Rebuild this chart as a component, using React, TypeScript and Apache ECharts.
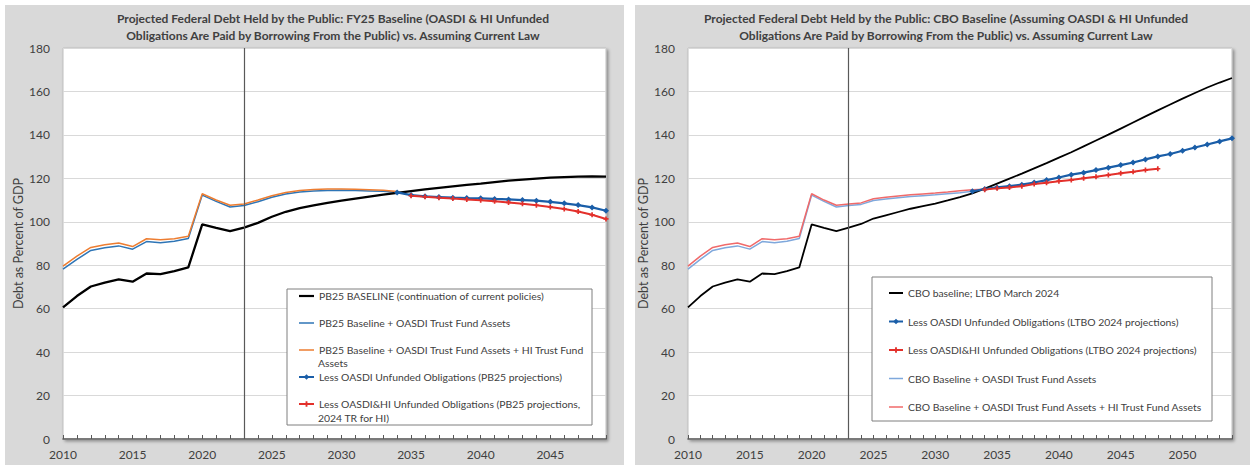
import React, { useEffect, useRef } from "react";
import * as echarts from "echarts";

const FONT = "Lato, 'Noto Sans', sans-serif";

// Categories
const YEARS_LEFT: string[] = Array.from({ length: 40 }, (_, i) => String(2010 + i)); // 2010-2049
const YEARS_RIGHT: string[] = Array.from({ length: 45 }, (_, i) => String(2010 + i)); // 2010-2054

// Historical debt held by public, % of GDP (2010-2023)
const HIST_DEBT = [60.6, 65.8, 70.2, 72.0, 73.5, 72.4, 76.2, 75.9, 77.3, 79.0, 98.8, 97.2, 95.7, 97.3];
// Historical debt + OASDI trust fund assets (2010-2023)
const HIST_TF_OASDI = [78.2, 82.7, 86.8, 88.0, 88.9, 87.4, 90.9, 90.4, 91.0, 92.3, 112.3, 109.4, 106.8, 107.5];
// Historical debt + OASDI + HI trust fund assets (2010-2023)
const HIST_TF_OASDI_HI = [79.6, 84.2, 88.2, 89.4, 90.2, 88.6, 92.2, 91.7, 92.2, 93.3, 112.9, 110.0, 107.6, 108.2];

// Left chart (PB25) projections
const PB25_BASELINE_PROJ = [99.5, 102.3, 104.6, 106.3, 107.6, 108.7, 109.7, 110.7, 111.6, 112.5, 113.3, 114.1, 114.9, 115.6, 116.3, 117.0, 117.6, 118.3, 118.9, 119.4, 119.9, 120.3, 120.6, 120.8, 120.9, 120.8]; // 2024-2049
const PB25_TF_OASDI_PROJ = [109.2, 111.3, 112.8, 113.7, 114.2, 114.4, 114.5, 114.4, 114.2, 114.0, 113.5]; // 2024-2034
const PB25_TF_OASDI_HI_PROJ = [110.0, 112.0, 113.5, 114.4, 114.9, 115.1, 115.1, 115.0, 114.8, 114.5, 113.9]; // 2024-2034
const PB25_LESS_OASDI = [113.5, 112.3, 111.7, 111.4, 111.1, 110.9, 110.8, 110.5, 110.3, 110.0, 109.7, 109.2, 108.5, 107.7, 106.6, 105.1]; // 2034-2049
const PB25_LESS_OASDI_HI = [112.0, 111.5, 111.1, 110.7, 110.3, 109.9, 109.4, 108.9, 108.3, 107.6, 106.8, 105.9, 104.7, 103.2, 101.3]; // 2035-2049

// Right chart (CBO) projections
const CBO_BASELINE_PROJ = [99.0, 101.5, 103.0, 104.5, 106.0, 107.2, 108.4, 109.8, 111.3, 113.1, 115.3, 117.6, 119.9, 122.2, 124.6, 127.0, 129.5, 132.0, 134.7, 137.4, 140.1, 142.9, 145.7, 148.5, 151.3, 154.0, 156.7, 159.3, 161.8, 164.1, 166.2]; // 2024-2054
const CBO_TF_OASDI_PROJ = [108.0, 109.8, 110.5, 111.1, 111.6, 112.0, 112.4, 112.9, 113.4, 114.0]; // 2024-2033
const CBO_TF_OASDI_HI_PROJ = [108.7, 110.6, 111.3, 111.9, 112.4, 112.8, 113.2, 113.7, 114.3, 114.8, 115.0]; // 2024-2034
const CBO_LESS_OASDI = [114.0, 115.1, 115.8, 116.4, 117.1, 118.1, 119.2, 120.4, 121.7, 122.6, 123.8, 124.9, 126.1, 127.3, 128.7, 130.1, 131.2, 132.7, 134.2, 135.6, 137.0, 138.4]; // 2033-2054
const CBO_LESS_OASDI_HI = [114.8, 115.4, 115.8, 116.4, 117.4, 118.0, 118.7, 119.2, 120.0, 120.7, 121.5, 122.3, 123.0, 123.8, 124.4]; // 2034-2048

// Series names
const L1 = "PB25 BASELINE (continuation of current policies)";
const L2 = "PB25 Baseline + OASDI Trust Fund Assets";
const L3 = "PB25 Baseline + OASDI Trust Fund Assets + HI Trust Fund Assets";
const L4 = "Less OASDI Unfunded Obligations (PB25 projections)";
const L5 = "Less OASDI&HI Unfunded Obligations (PB25 projections, 2024 TR for HI)";
const R1 = "CBO baseline; LTBO March 2024";
const R2 = "Less OASDI Unfunded Obligations (LTBO 2024 projections)";
const R3 = "Less OASDI&HI Unfunded Obligations (LTBO 2024 projections)";
const R4 = "CBO Baseline + OASDI Trust Fund Assets";
const R5 = "CBO Baseline + OASDI Trust Fund Assets + HI Trust Fund Assets";

const LEGEND_FIRST_LINE: Record<string, string> = {
  [L3]: "PB25 Baseline + OASDI Trust Fund Assets + HI Trust Fund",
  [L5]: "Less OASDI&HI Unfunded Obligations (PB25 projections,",
};

const TITLE_LEFT = "Projected Federal Debt Held by the Public: FY25 Baseline (OASDI & HI Unfunded\nObligations Are Paid by Borrowing From the Public) vs. Assuming Current Law";
const TITLE_RIGHT = "Projected Federal Debt Held by the Public: CBO Baseline (Assuming OASDI & HI Unfunded\nObligations Are Paid by Borrowing From the Public) vs. Assuming Current Law";
const Y_NAME = "Debt as Percent of GDP";

function place(years: string[], start: number, values: number[]) {
  return years.map((y) => {
    const i = Number(y) - start;
    return i >= 0 && i < values.length ? values[i] : null;
  });
}

const PLUS = "path://M2,0H4V2H6V4H4V6H2V4H0V2H2Z";
const TEXT = "#404040";

function xAxis(gridIndex: number, data: string[]) {
  return {
    type: "category",
    gridIndex,
    data,
    boundaryGap: false,
    axisLine: { lineStyle: { color: "#595959", width: 1.5 } },
    axisTick: { show: true, inside: true, length: 4, interval: 0, lineStyle: { color: "#595959" } },
    axisLabel: { interval: 4, color: TEXT, fontSize: 12, fontFamily: FONT, margin: 9 },
    splitLine: { show: false },
  };
}

function yAxis(gridIndex: number, nameGap: number) {
  return {
    type: "value",
    gridIndex,
    min: 0,
    max: 180,
    interval: 20,
    axisLine: { show: false },
    axisTick: { show: false },
    axisLabel: { color: TEXT, fontSize: 12, fontFamily: FONT, margin: 13 },
    splitLine: { lineStyle: { color: "#d9d9d9", width: 1 } },
    name: Y_NAME,
    nameLocation: "middle",
    nameGap,
    nameTextStyle: { color: TEXT, fontSize: 12.5, fontFamily: FONT },
  };
}

function line(name: string, idx: number, data: (number | null)[], color: string, width: number, extra: any = {}) {
  return {
    type: "line",
    name,
    xAxisIndex: idx,
    yAxisIndex: idx,
    data,
    symbol: "none",
    lineStyle: { color, width },
    itemStyle: { color },
    emphasis: { disabled: true },
    silent: true,
    ...extra,
  };
}

const vline = {
  silent: true,
  symbol: ["none", "none"],
  label: { show: false },
  lineStyle: { color: "#595959", width: 1.2, type: "solid" },
  data: [{ xAxis: "2023" }],
};

export default function App() {
  const ref = useRef<HTMLDivElement>(null);
  useEffect(() => {
    document.body.style.margin = "0";
    const chart = echarts.init(ref.current!, null, { renderer: "svg" });
    const legendText = { color: TEXT, fontSize: 10.4, fontFamily: FONT, lineHeight: 13 };
    const titleText = { color: TEXT, fontSize: 12, fontWeight: "bold", fontFamily: FONT, lineHeight: 17 };
    const option: any = {
      animation: false,
      backgroundColor: "#ffffff",
      title: [
        { text: TITLE_LEFT, left: 333, top: 10, padding: 0, textAlign: "center", textStyle: titleText },
        { text: TITLE_RIGHT, left: 946, top: 10, padding: 0, textAlign: "center", textStyle: titleText },
      ],
      grid: [
        {
          left: 63, top: 48, width: 543, height: 391, show: true, backgroundColor: "#ffffff",
          borderColor: "#bfbfbf", borderWidth: 1,
          shadowColor: "rgba(0,0,0,0.35)", shadowBlur: 3, shadowOffsetX: 2, shadowOffsetY: 2,
        },
        {
          left: 688, top: 48, width: 544, height: 391, show: true, backgroundColor: "#ffffff",
          borderColor: "#bfbfbf", borderWidth: 1,
          shadowColor: "rgba(0,0,0,0.35)", shadowBlur: 3, shadowOffsetX: 2, shadowOffsetY: 2,
        },
      ],
      xAxis: [xAxis(0, YEARS_LEFT), xAxis(1, YEARS_RIGHT)],
      yAxis: [yAxis(0, 37), yAxis(1, 38)],
      legend: [
        {
          orient: "vertical",
          left: 298,
          top: 289.5,
          padding: 0,
          itemGap: 14,
          itemWidth: 15,
          itemHeight: 7,
          selectedMode: false,
          z: 10,
          textStyle: legendText,
          formatter: (n: string) => LEGEND_FIRST_LINE[n] || n,
          data: [
            { name: L1, icon: "path://M0,0H15V2.2H0Z" },
            { name: L2, icon: "path://M0,0H15V1.5H0Z" },
            { name: L3, icon: "path://M0,0H15V1.5H0Z" },
            { name: L4 },
            { name: L5 },
          ],
        },
        {
          orient: "vertical",
          left: 888,
          top: 286.5,
          padding: 0,
          itemGap: 15.5,
          itemWidth: 14,
          itemHeight: 7,
          selectedMode: false,
          z: 10,
          textStyle: legendText,
          data: [
            { name: R1, icon: "path://M0,0H14V2H0Z" },
            { name: R2 },
            { name: R3 },
            { name: R4, icon: "path://M0,0H14V1.5H0Z" },
            { name: R5, icon: "path://M0,0H14V1.5H0Z" },
          ],
        },
      ],
      graphic: [
        { type: "rect", z: -5, shape: { x: 5, y: 5, width: 619, height: 460 }, style: { fill: "#d9d9d9" } },
        { type: "rect", z: -5, shape: { x: 635, y: 5, width: 615, height: 460 }, style: { fill: "#d9d9d9" } },
        { type: "rect", z: 3, shape: { x: 287, y: 289, width: 305, height: 136 }, style: { fill: "#ffffff", stroke: "#7f7f7f", lineWidth: 1 } },
        { type: "rect", z: 3, shape: { x: 872, y: 277, width: 340, height: 144 }, style: { fill: "#ffffff", stroke: "#7f7f7f", lineWidth: 1 } },
        { type: "text", z: 12, x: 318, y: 363, style: { text: "Assets", fill: TEXT, fontSize: 10.4, fontFamily: FONT, verticalAlign: "middle" } },
        { type: "text", z: 12, x: 318, y: 418, style: { text: "2024 TR for HI)", fill: TEXT, fontSize: 10.4, fontFamily: FONT, verticalAlign: "middle" } },
      ],
      series: [
        line(L2, 0, place(YEARS_LEFT, 2010, [...HIST_TF_OASDI, ...PB25_TF_OASDI_PROJ]), "#2e75b6", 1.5),
        line(L3, 0, place(YEARS_LEFT, 2010, [...HIST_TF_OASDI_HI, ...PB25_TF_OASDI_HI_PROJ]), "#ed7d31", 1.5),
        line(L1, 0, place(YEARS_LEFT, 2010, [...HIST_DEBT, ...PB25_BASELINE_PROJ]), "#000000", 2.3, { markLine: vline }),
        line(L4, 0, place(YEARS_LEFT, 2034, PB25_LESS_OASDI), "#1a5ea8", 2.2, { symbol: "diamond", symbolSize: 6, showSymbol: true }),
        line(L5, 0, place(YEARS_LEFT, 2035, PB25_LESS_OASDI_HI), "#e3302b", 2, { symbol: PLUS, symbolSize: 5, showSymbol: true }),

        line(R4, 1, place(YEARS_RIGHT, 2010, [...HIST_TF_OASDI, ...CBO_TF_OASDI_PROJ]), "#7fa8dc", 1.5),
        line(R5, 1, place(YEARS_RIGHT, 2010, [...HIST_TF_OASDI_HI, ...CBO_TF_OASDI_HI_PROJ]), "#f06a6a", 1.5),
        line(R1, 1, place(YEARS_RIGHT, 2010, [...HIST_DEBT, ...CBO_BASELINE_PROJ]), "#000000", 1.8, { markLine: vline }),
        line(R2, 1, place(YEARS_RIGHT, 2033, CBO_LESS_OASDI), "#1a5ea8", 2.2, { symbol: "diamond", symbolSize: 6, showSymbol: true }),
        line(R3, 1, place(YEARS_RIGHT, 2034, CBO_LESS_OASDI_HI), "#e3302b", 2, { symbol: PLUS, symbolSize: 5, showSymbol: true }),
      ],
    };
    chart.setOption(option);
    return () => chart.dispose();
  }, []);
  return <div ref={ref} style={{ width: 1250, height: 469 }} />;
}
